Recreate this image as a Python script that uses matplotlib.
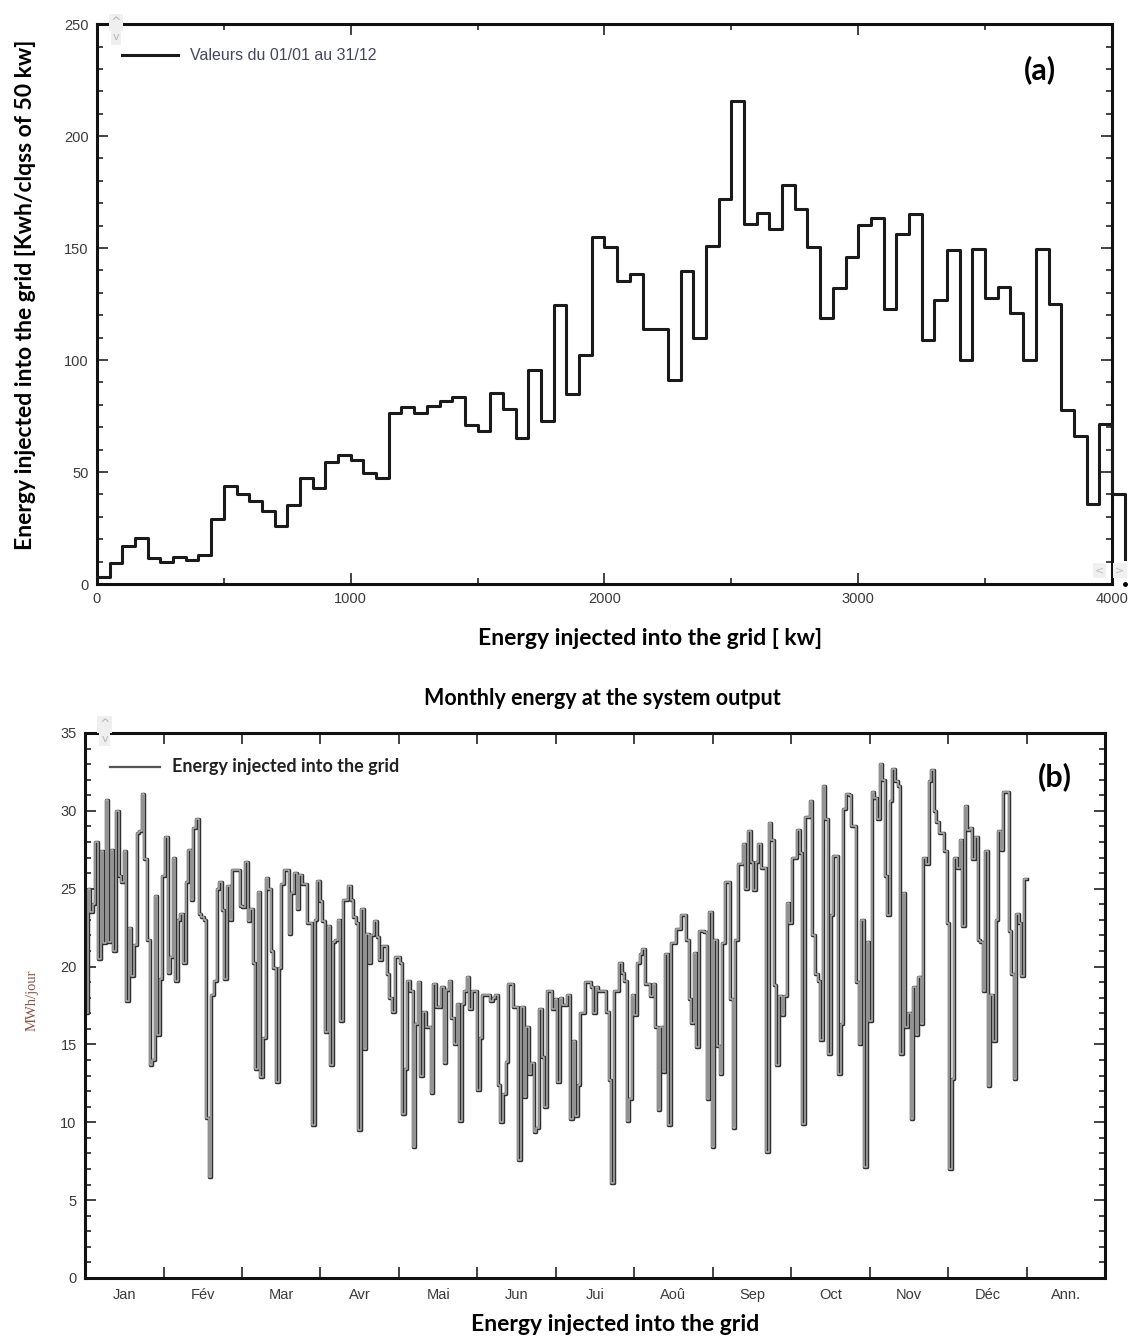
import numpy as np
import matplotlib
matplotlib.use('Agg')
import matplotlib.pyplot as plt

# histogram (a): energy per 50 kW class, bins 0-50, 50-100, ... 4000-4050
bin_width = 50
hist_values = [3, 9.3, 16.8, 20.5, 11.5, 10, 12.3, 10.8, 13, 29.2,
               43.7, 40, 37, 32.5, 25.8, 35.5, 47.2, 42.7, 54.5, 57.7,
               55.4, 49.7, 47.2, 76.2, 78.9, 76.4, 79.7, 81.9, 83.4, 71.1,
               68.4, 85.4, 78.2, 65.4, 95.4, 72.9, 124.6, 84.9, 102.1, 154.8,
               150.5, 135.4, 138.5, 114.1, 114.1, 91.3, 139.9, 109.9, 150.8, 171.8,
               215.6, 160.8, 165.5, 158.7, 178.2, 167.3, 150.4, 118.6, 132.1, 146,
               160.5, 163.5, 122.8, 156.3, 165.3, 108.9, 126.8, 149.3, 99.9, 149.7,
               127.9, 132.8, 120.8, 99.9, 149.7, 124.9, 77.7, 66.2, 35.8, 71.4,
               40]
hist_last = 11  # la derniere marche qui sort du cadre

# daily energy (b) MWh/jour, 365 jours
jan_mar = [17, 25, 23.5, 24, 28, 20.5, 27.4, 21.5, 30.7, 21.6,
           27.5, 21, 30, 25.8, 25.4, 27.4, 17.8, 22.5, 19.4, 21.4,
           28.6, 28.7, 31.1, 26.9, 21.7, 13.7, 14, 24.5, 15.6, 19.2,
           25.8, 28.3, 19.6, 20.6, 27.0, 19.1, 23, 23.4, 20.2, 25.4,
           27.5, 24.3, 28.9, 29.5, 23.4, 23.2, 23.0, 10.3, 6.5, 18.2,
           19.1, 25.0, 25.4, 23.6, 19.2, 25.2, 23, 26.2, 26.2, 26.2,
           23.9, 23.8, 26.7, 22.9, 23.7, 20.2, 13.4, 24.8, 12.9, 15.4,
           25.7, 25.0, 21, 19.9, 12.6, 19.9, 25.3, 26.2, 26.2, 22.1]
mar_jun = [24.7, 26.0, 23.7, 25.9, 25.3, 25.3, 22.8, 22.8, 9.8, 23,
           25.5, 24.2, 22.9, 15.8, 22.6, 13.7, 21.6, 21.7, 23, 16.5,
           24.3, 24.3, 25.2, 24.3, 23.2, 22.8, 9.5, 23.7, 14.7, 22.1,
           20.2, 22.0, 22.9, 21.9, 20.4, 21.3, 21.3, 19.5, 18, 17.1,
           20.6, 20.6, 20.2, 10.5, 13.4, 19.1, 18.4, 8.4, 16.3, 19.0,
           13, 17.1, 16.1, 16.1, 11.9, 18.9, 17.4, 17.4, 18.7, 13.8,
           18.5, 19.1, 16.7, 15, 17.6, 10.1, 17.6, 18.4, 19.3, 17.3,
           18.4, 18.4, 12.1, 15.4, 18.2, 18.2, 18.2, 17.8, 18, 18.2]
jun_aug = [12.4, 10, 11.8, 13.9, 18.9, 18.9, 17.4, 17.4, 7.6, 17.4,
           11.6, 16.1, 13.1, 13.8, 9.4, 9.6, 17.3, 14.2, 11, 18.4,
           18.4, 17.3, 17.9, 12.6, 18.0, 17.5, 17.5, 18.2, 10.2, 15.2,
           10.4, 12.4, 17.0, 17.0, 19.0, 19.0, 18.7, 17.0, 18.7, 18.4,
           18.4, 18.4, 17.1, 12.7, 6.1, 18.4, 18.4, 20.2, 19.6, 19.1,
           10.1, 11.5, 18.2, 16.9, 20.2, 20.8, 21.1, 18.9, 18.9, 18.1,
           18.9, 16.1, 10.8, 16.1, 13.2, 20.8, 9.8, 21.5, 21.5, 22.4,
           22.4, 23.3, 23.3, 21.7, 17.9, 16.4, 20.9, 14.8, 22.3, 22.3]
aug_nov = [22.2, 11.5, 23.5, 8.4, 21.7, 14.9, 13.1, 21.5, 25.4, 25.4,
           17.9, 9.6, 21.7, 26.6, 26.6, 27.9, 25, 28.7, 26.7, 24.9,
           26.7, 27.9, 26.3, 26.3, 8.1, 29.2, 28.1, 18.8, 13.7, 18.1,
           16.9, 18.1, 24.1, 22.8, 27.0, 27.0, 28.8, 27.3, 9.9, 29.6,
           29.6, 30.6, 22.0, 19.5, 19.1, 15.3, 31.6, 29.5, 14.4, 23.3,
           27.1, 27.1, 13.1, 16.3, 30.1, 31.1, 31.0, 29, 29, 19.0,
           15.0, 23, 7.1, 21.6, 16.5, 31.2, 30.8, 29.5, 33.0, 32,
           25.8, 23.3, 30.6, 32.7, 31.9, 31.6, 14.4, 24.7, 16.1, 17.0]
nov_dec = [10.2, 18.7, 15.6, 19.3, 16.3, 27.0, 26.6, 31.9, 32.6, 30,
           29.3, 28.6, 28.6, 27.4, 22.8, 7.0, 12.8, 27.0, 26.3, 28.1,
           22.6, 30.3, 28.8, 28.9, 26.9, 28.3, 21.7, 21.6, 18.4, 27.4,
           12.3, 18.2, 15.2, 23, 28.7, 27.5, 31.2, 31.2, 22.3, 19.5,
           12.8, 23.4, 22.8, 19.4, 25.6]
daily = jan_mar + mar_jun + jun_aug + aug_nov + nov_dec

months = ['Jan', 'Fév', 'Mar', 'Avr', 'Mai', 'Jun', 'Jui', 'Aoû', 'Sep',
          'Oct', 'Nov', 'Déc', 'Ann.']

bold_font = 'Lato'
tick_font = 'Liberation Sans'
tick_col = '#3a3a3a'

fig = plt.figure(figsize=(11.37, 13.39), dpi=100)

# ---------- (a) histogramme ----------
ax1 = fig.add_axes([0.0853, 0.5638, 0.8927, 0.4182])
edges = np.arange(len(hist_values) + 1) * bin_width
ax1.plot(edges, hist_values + [hist_last], drawstyle='steps-post',
         color='#1a1a1a', lw=2.2, clip_on=False, zorder=3)
ax1.plot([edges[-1]], [0], marker='o', ms=2.5, color='black', clip_on=False)
ax1.set_xlim(0, 4000)
ax1.set_ylim(0, 250)
ax1.set_xticks([0, 1000, 2000, 3000, 4000])
ax1.set_xticks(np.arange(500, 4000, 1000), minor=True)
ax1.set_yticks(np.arange(0, 251, 50))
ax1.set_yticks(np.arange(0, 251, 10), minor=True)

# legende (a)
ax1.plot([0.0246, 0.0798], [0.9446, 0.9446], transform=ax1.transAxes,
         color='#1a1a1a', lw=2.2)
ax1.text(0.0916, 0.9446, 'Valeurs du 01/01 au 31/12', transform=ax1.transAxes,
         fontsize=11.5, family=tick_font, color='#454560', va='center')
ax1.text(0.929, 0.918, '(a)', transform=ax1.transAxes, fontsize=22,
         fontweight='bold', family=bold_font, ha='center', va='center')

# ---------- (b) energie journaliere ----------
ax2 = fig.add_axes([0.0748, 0.0456, 0.8971, 0.4070])
x_days = np.arange(len(daily) + 1) * 12 / 365
y_days = daily + [daily[-1]]
ax2.plot(x_days, y_days, drawstyle='steps-post', color='#303030', lw=2.5)
ax2.plot(x_days, y_days, drawstyle='steps-post', color='#b0b0b0', lw=1.1)
ax2.set_xlim(0, 13)
ax2.set_ylim(0, 35)
ax2.set_xticks(np.arange(1, 13))
ax2.set_xticklabels([])
ax2.set_xticks(np.arange(0.5, 13), minor=True)
ax2.set_xticklabels(months, minor=True)
ax2.set_yticks(np.arange(0, 36, 5))
ax2.set_yticks(np.arange(0, 36, 1), minor=True)

# legende (b)
ax2.plot([0.0245, 0.0735], [0.9376, 0.9376], transform=ax2.transAxes,
         color='#555555', lw=1.6)
ax2.text(0.0853, 0.9376, 'Energy injected into the grid', transform=ax2.transAxes,
         fontsize=13, fontweight='bold', family=bold_font, color='#222222', va='center')
ax2.text(0.951, 0.919, '(b)', transform=ax2.transAxes, fontsize=22,
         fontweight='bold', family=bold_font, ha='center', va='center')

# style commun des axes
for ax in (ax1, ax2):
    for s in ax.spines.values():
        s.set_linewidth(2.2)
        s.set_color('#111111')
    ax.tick_params(which='both', direction='in', top=True, right=True,
                   width=1.2, color='#222222')
    ax.tick_params(which='major', length=8, labelsize=10.5, labelcolor=tick_col, pad=6)
    ax.tick_params(which='minor', length=4)
    for lab in ax.get_xticklabels(which='both') + ax.get_yticklabels():
        lab.set_family(tick_font)
ax2.tick_params(axis='x', which='minor', length=0, labelsize=10.5, labelcolor=tick_col, pad=7)

# petits boutons de defilement (capture d'ecran)
for (bx, by) in [(0.102, 0.983), (0.092, 0.459)]:
    fig.text(bx, by, '^', fontsize=9, color='#b5b5b5', ha='center', va='center',
             bbox=dict(facecolor='#efefef', edgecolor='none', pad=1.5))
    fig.text(bx, by - 0.011, 'v', fontsize=8, color='#b5b5b5', ha='center', va='center',
             bbox=dict(facecolor='#efefef', edgecolor='none', pad=1.5))
fig.text(0.967, 0.574, '<', fontsize=8, color='#c0c0c0', ha='center', va='center',
         bbox=dict(facecolor='#f0f0f0', edgecolor='none', pad=1.5))
fig.text(0.985, 0.574, '>', fontsize=8, color='#c0c0c0', ha='center', va='center',
         bbox=dict(facecolor='#f0f0f0', edgecolor='none', pad=1.5))

# titres et labels
fig.text(0.022, 0.7797, 'Energy injected into the grid [Kwh/clqss of 50 kw]',
         rotation=90, ha='center', va='center', fontsize=16.5,
         fontweight='bold', family=bold_font)
fig.text(0.572, 0.5228, 'Energy injected into the grid [ kw]', ha='center',
         va='center', fontsize=16.5, fontweight='bold', family=bold_font)
fig.text(0.530, 0.4787, 'Monthly energy at the system output', ha='center',
         va='center', fontsize=15.5, fontweight='bold', family=bold_font)
fig.text(0.028, 0.2532, 'MWh/jour', rotation=90, ha='center', va='center',
         fontsize=10.5, family='Liberation Serif', color='#8a5545')
fig.text(0.541, 0.0105, 'Energy injected into the grid', ha='center',
         va='center', fontsize=16.5, fontweight='bold', family=bold_font)

fig.savefig('out.png', dpi=100, facecolor='white')
